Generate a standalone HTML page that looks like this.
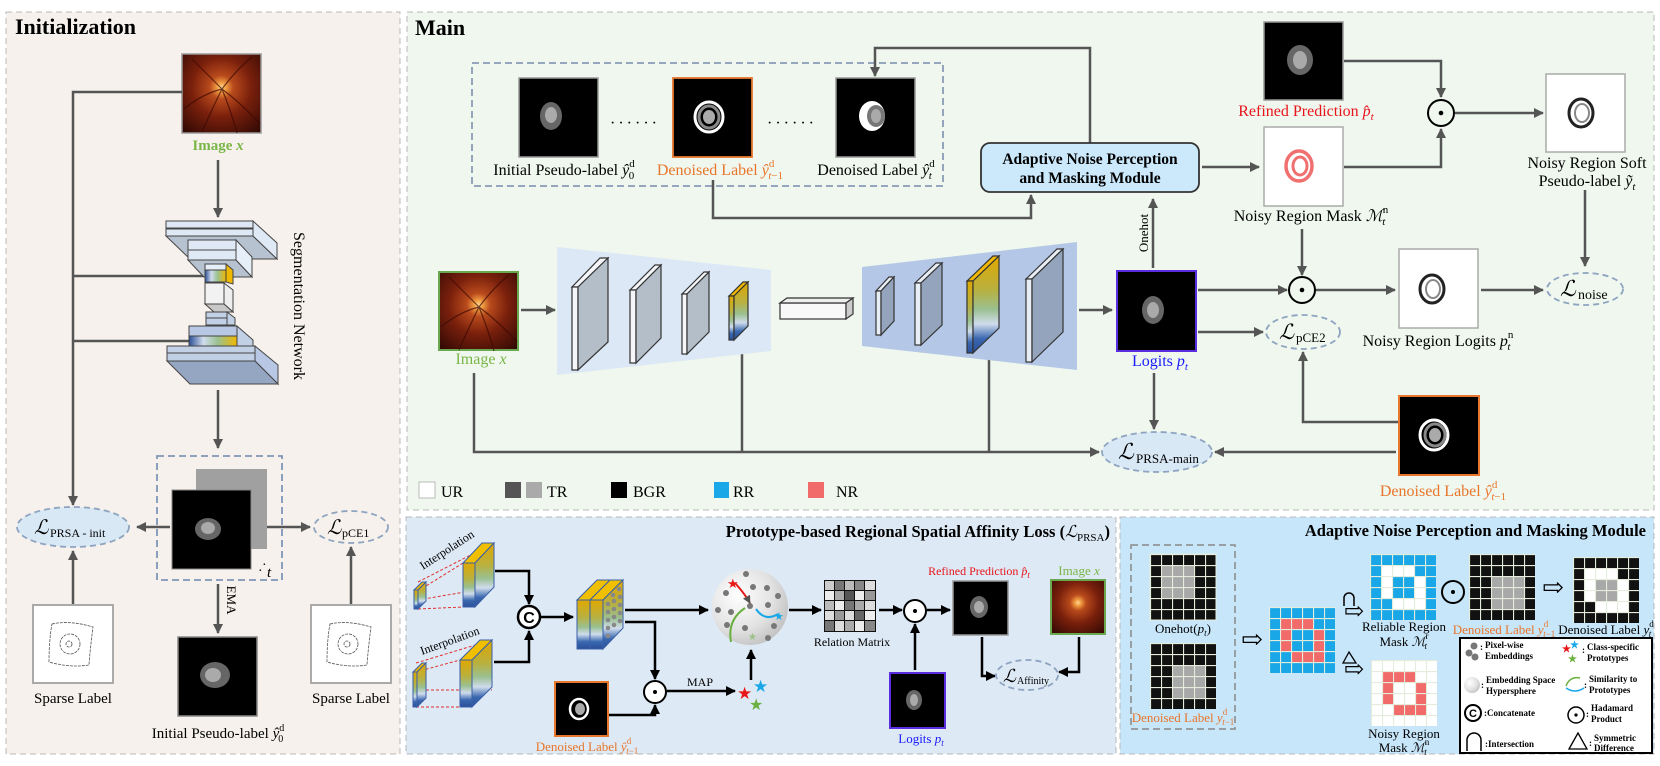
<!DOCTYPE html>
<html><head><meta charset="utf-8"><style>
html,body{margin:0;padding:0;background:#fff;}
svg{display:block;font-family:"Liberation Serif","DejaVu Serif",serif;}
.m{font-family:"Liberation Serif","DejaVu Serif",serif;font-style:italic;}
</style></head><body>
<svg width="1660" height="766" viewBox="0 0 1660 766" xmlns="http://www.w3.org/2000/svg">
<defs>
<marker id="ag" viewBox="0 0 10 10" refX="9" refY="5" markerWidth="4" markerHeight="4" orient="auto"><path d="M0,0L10,5L0,10z" fill="#555"/></marker>
<marker id="ab" viewBox="0 0 10 10" refX="9" refY="5" markerWidth="4" markerHeight="4" orient="auto"><path d="M0,0L10,5L0,10z" fill="#000"/></marker>
<radialGradient id="fund" cx="0.5" cy="0.42" r="0.75"><stop offset="0" stop-color="#ffd890"/><stop offset="0.08" stop-color="#f09a40"/><stop offset="0.2" stop-color="#b84a1c"/><stop offset="0.5" stop-color="#7a200c"/><stop offset="1" stop-color="#2e0804"/></radialGradient>
<linearGradient id="col" x1="0" y1="0" x2="0" y2="1"><stop offset="0" stop-color="#e0a800"/><stop offset="0.35" stop-color="#b8b040"/><stop offset="0.55" stop-color="#9ac090"/><stop offset="0.7" stop-color="#d0dcec"/><stop offset="0.85" stop-color="#3a68b0"/><stop offset="1" stop-color="#2a4f98"/></linearGradient>
<linearGradient id="colh" x1="0" y1="0" x2="1" y2="0"><stop offset="0" stop-color="#2a4f98"/><stop offset="0.3" stop-color="#d0dcec"/><stop offset="0.6" stop-color="#9ac090"/><stop offset="1" stop-color="#f0b800"/></linearGradient>
<radialGradient id="sph" cx="0.35" cy="0.35" r="0.75"><stop offset="0" stop-color="#ffffff"/><stop offset="0.6" stop-color="#e2e2e2"/><stop offset="1" stop-color="#bdbdbd"/></radialGradient>
<pattern id="gap" width="11" height="11" patternUnits="userSpaceOnUse"><path d="M0,0H11M0,0V11" stroke="#e4ecdc" stroke-width="2.2" fill="none"/></pattern>
<g id="vess" fill="none" stroke="#3a0804" stroke-width="1.2" opacity="0.7"><path d="M40,35Q25,20 10,5M40,35Q20,40 2,55M40,35Q30,55 20,78M40,35Q55,15 70,3M40,35Q60,50 78,70M40,35Q50,60 55,79"/></g>
</defs>

<!-- Panels -->
<rect x="6" y="12" width="394" height="742" fill="#f6f1ec" stroke="#b8b8b8" stroke-dasharray="6,4"/>
<rect x="407" y="12" width="1247" height="498" fill="#eff7ee" stroke="#b8b8b8" stroke-dasharray="6,4"/>
<rect x="406" y="517" width="710" height="237" fill="#dde9f5" stroke="#b8b8b8" stroke-dasharray="6,4"/>
<rect x="1120" y="517" width="534" height="237" fill="#c8e6fa" stroke="#b8b8b8" stroke-dasharray="6,4"/>

<!-- ============ INITIALIZATION ============ -->
<text x="15" y="34" font-size="22" font-weight="bold">Initialization</text>
<rect x="182" y="54" width="79" height="79" fill="url(#fund)" stroke="#999" stroke-width="1.5"/>
<use href="#vess" x="182" y="54"/>
<text x="218" y="150" font-size="15" font-weight="bold" fill="#7ab648" text-anchor="middle">Image <tspan class="m">x</tspan></text>
<g stroke="#555" stroke-width="2.5" fill="none">
<path d="M218,160V217" marker-end="url(#ag)"/>
<path d="M182,92H73V505" marker-end="url(#ag)"/>
<path d="M206,276H73M190,341H73"/>
<path d="M218,390V448" marker-end="url(#ag)"/>
<path d="M170,527H137" marker-end="url(#ag)"/>
<path d="M253,527H310" marker-end="url(#ag)"/>
<path d="M73,604V551" marker-end="url(#ag)"/>
<path d="M351,604V547" marker-end="url(#ag)"/>
<path d="M218,584V633" marker-end="url(#ag)"/>
</g>
<!-- network -->
<g stroke="#444" stroke-width="1">
<polygon points="166,236 253,236 277,259 190,259" fill="#b7c2d0"/>
<polygon points="253,221 277,243 277,259 253,236" fill="#dfe9f6"/>
<rect x="166" y="221" width="87" height="7" fill="#dfe9f6"/><rect x="166" y="229" width="87" height="7" fill="#dfe9f6"/>
<polygon points="188,260 236,260 252,277 204,277" fill="#b7c2d0"/>
<polygon points="236,240 252,257 252,277 236,260" fill="#e6eef8"/>
<rect x="188" y="240" width="48" height="10" fill="#dfe9f6"/><rect x="188" y="250" width="48" height="10" fill="#dfe9f6"/>
<rect x="205" y="264" width="21" height="6" fill="#e6eef8"/>
<rect x="205" y="270" width="21" height="12" fill="url(#colh)"/>
<polygon points="226,264 233,270 233,284 226,282" fill="#f0b800"/>
<polygon points="224,283 233,290 233,312 224,304" fill="#eee"/>
<rect x="205" y="283" width="19" height="21" fill="#f2f2f2"/>
<polygon points="205,304 224,304 233,312 214,312" fill="#c8c8c8"/>
<rect x="206" y="312" width="21" height="6" fill="#c2d0e6"/><rect x="206" y="318" width="21" height="7" fill="#c2d0e6"/>
<polygon points="227,312 235,318 235,325 227,325" fill="#c2d0e6"/>
<rect x="189" y="326" width="48" height="10" fill="#b8c8e4"/>
<rect x="189" y="336" width="48" height="10" fill="url(#colh)"/>
<polygon points="237,326 253,340 253,346 237,346" fill="#c2d0e6"/>
<rect x="167" y="346" width="88" height="7" fill="#c2d0e6"/><rect x="167" y="353" width="88" height="8" fill="#c2d0e6"/>
<polygon points="255,346 278,365 278,384 255,361" fill="#b8c8e4"/>
<polygon points="167,361 255,361 278,384 190,384" fill="#94a6c2"/>
</g>
<text transform="translate(294,306) rotate(90)" font-size="16" text-anchor="middle">Segmentation Network</text>
<rect x="157" y="456" width="125" height="124" fill="none" stroke="#7f96b8" stroke-width="1.8" stroke-dasharray="7,4"/>
<rect x="196" y="469" width="71" height="80" fill="#a0a0a0"/>
<rect x="172" y="490" width="79" height="79" fill="#000" stroke="#888"/>
<ellipse cx="208" cy="529" rx="13" ry="11" fill="#666"/><ellipse cx="208" cy="528" rx="7" ry="6" fill="#aaa"/>
<text x="258" y="575" font-size="14">·</text><text x="262" y="569" font-size="14">·</text><text x="267" y="577" font-size="15" class="m">t</text>
<ellipse cx="73" cy="527" rx="56" ry="20" fill="#d9e8f5" stroke="#8ea4c0" stroke-width="1.8" stroke-dasharray="6,4"/>
<text x="34" y="534" font-size="20" class="m">ℒ</text><text x="50" y="537" font-size="12">PRSA - init</text>
<ellipse cx="351" cy="527" rx="37" ry="16" fill="none" stroke="#8ea4c0" stroke-width="1.8" stroke-dasharray="6,4"/>
<text x="327" y="534" font-size="20" class="m">ℒ</text><text x="342" y="537" font-size="12">pCE1</text>
<rect x="33" y="605" width="80" height="78" fill="#fff" stroke="#aaa" stroke-width="2"/>
<rect x="311" y="605" width="80" height="78" fill="#fff" stroke="#aaa" stroke-width="2"/>
<g fill="none" stroke="#555" stroke-width="0.8" stroke-dasharray="3,1">
<path d="M52,624Q70,620 93,627Q90,650 89,665Q70,668 49,662Q49,640 52,624z"/><circle cx="70" cy="644" r="10"/><circle cx="69" cy="644" r="3"/>
<path d="M330,624Q348,620 371,627Q368,650 367,665Q348,668 327,662Q327,640 330,624z"/><circle cx="348" cy="644" r="10"/><circle cx="347" cy="644" r="3"/>
</g>
<text x="73" y="703" font-size="15" text-anchor="middle">Sparse Label</text>
<text x="351" y="703" font-size="15" text-anchor="middle">Sparse Label</text>
<text transform="translate(227,600) rotate(90)" font-size="13" text-anchor="middle">EMA</text>
<rect x="178" y="637" width="79" height="79" fill="#000" stroke="#888" stroke-width="1.5"/>
<ellipse cx="215" cy="675" rx="15" ry="13" fill="#666"/><ellipse cx="213" cy="675" rx="8" ry="7" fill="#aaa"/>
<text x="218" y="738" font-size="15" text-anchor="middle">Initial Pseudo-label <tspan class="m">ŷ</tspan><tspan font-size="10" dy="-7">d</tspan><tspan font-size="10" dx="-6" dy="11">0</tspan></text>

<!-- ============ MAIN ============ -->
<text x="415" y="35" font-size="22" font-weight="bold">Main</text>
<rect x="472" y="63" width="471" height="123" fill="none" stroke="#8a9bb5" stroke-width="1.8" stroke-dasharray="7,4"/>
<rect x="519" y="78" width="79" height="79" fill="#000" stroke="#999" stroke-width="1.5"/>
<ellipse cx="551" cy="116" rx="11" ry="14" fill="#666"/><ellipse cx="551" cy="115" rx="6" ry="8" fill="#aaa"/>
<rect x="673" y="78" width="79" height="79" fill="#000" stroke="#e8762c" stroke-width="1.8"/>
<ellipse cx="709" cy="117" rx="14" ry="15" fill="none" stroke="#fff" stroke-width="3"/><ellipse cx="709" cy="117" rx="10" ry="11" fill="none" stroke="#888" stroke-width="3"/><ellipse cx="709" cy="117" rx="6" ry="7" fill="#aaa"/>
<rect x="836" y="78" width="79" height="79" fill="#000" stroke="#999" stroke-width="1.5"/>
<ellipse cx="872" cy="116" rx="13" ry="15" fill="#fff"/><ellipse cx="876" cy="116" rx="9" ry="11" fill="#777"/><ellipse cx="876" cy="116" rx="5" ry="7" fill="#aaa"/>
<text x="635" y="128" font-size="16" text-anchor="middle" letter-spacing="3">······</text>
<text x="792" y="128" font-size="16" text-anchor="middle" letter-spacing="3">······</text>
<text x="564" y="175" font-size="16" text-anchor="middle">Initial Pseudo-label <tspan class="m">ŷ</tspan><tspan font-size="11" dy="-8">d</tspan><tspan font-size="11" dx="-6" dy="12">0</tspan></text>
<text x="720" y="175" font-size="16" text-anchor="middle" fill="#e8762c">Denoised Label <tspan class="m">ŷ</tspan><tspan font-size="11" dy="-8">d</tspan><tspan font-size="11" dx="-6" dy="12" class="m">t</tspan><tspan font-size="11">−1</tspan></text>
<text x="876" y="175" font-size="16" text-anchor="middle">Denoised Label <tspan class="m">ŷ</tspan><tspan font-size="11" dy="-8">d</tspan><tspan font-size="11" dx="-6" dy="12" class="m">t</tspan></text>

<g stroke="#555" stroke-width="2.5" fill="none">
<path d="M1090,143V48H875V76" marker-end="url(#ag)"/>
<path d="M713,180V218H1031V195" marker-end="url(#ag)"/>
<path d="M1202,167H1259" marker-end="url(#ag)"/>
<path d="M1344,61H1441V97" marker-end="url(#ag)"/>
<path d="M1344,167H1441V129" marker-end="url(#ag)"/>
<path d="M1455,113H1543" marker-end="url(#ag)"/>
<path d="M1585,190V266" marker-end="url(#ag)"/>
<path d="M1153,268V199" marker-end="url(#ag)"/>
<path d="M1079,310H1112" marker-end="url(#ag)"/>
<path d="M521,310H555" marker-end="url(#ag)"/>
<path d="M1198,290H1287" marker-end="url(#ag)"/>
<path d="M1302,229V275" marker-end="url(#ag)"/>
<path d="M1316,290H1395" marker-end="url(#ag)"/>
<path d="M1481,290H1543" marker-end="url(#ag)"/>
<path d="M1198,332H1263" marker-end="url(#ag)"/>
<path d="M1398,422H1303V352" marker-end="url(#ag)"/>
<path d="M1396,452H1215" marker-end="url(#ag)"/>
<path d="M1154,373V429" marker-end="url(#ag)"/>
<path d="M474,373V452H1099" marker-end="url(#ag)"/>
<path d="M742,342V452M989,348V452"/>
</g>
<rect x="981" y="143" width="218" height="49" rx="9" fill="#cbe9fb" stroke="#333" stroke-width="1.8"/>
<text x="1090" y="164" font-size="15.5" font-weight="bold" text-anchor="middle">Adaptive Noise Perception</text>
<text x="1090" y="183" font-size="15.5" font-weight="bold" text-anchor="middle">and Masking Module</text>

<rect x="1264" y="22" width="79" height="78" fill="#000" stroke="#999" stroke-width="1.5"/>
<ellipse cx="1300" cy="60" rx="13" ry="15" fill="#666"/><ellipse cx="1300" cy="60" rx="7" ry="9" fill="#aaa"/>
<text x="1306" y="116" font-size="16" text-anchor="middle" fill="#e8141c">Refined Prediction <tspan class="m">p̂</tspan><tspan font-size="11" dy="4" class="m">t</tspan></text>
<rect x="1264" y="127" width="79" height="79" fill="#fff" stroke="#aaa" stroke-width="1.5"/>
<ellipse cx="1299" cy="166" rx="13" ry="15" fill="none" stroke="#f07070" stroke-width="3.5"/><ellipse cx="1300" cy="166" rx="7" ry="9" fill="none" stroke="#f07070" stroke-width="3"/>
<text x="1311" y="221" font-size="16" text-anchor="middle">Noisy Region Mask <tspan class="m">ℳ</tspan><tspan font-size="11" dy="-8">n</tspan><tspan font-size="11" dx="-6" dy="12" class="m">t</tspan></text>
<circle cx="1441" cy="113" r="13" fill="none" stroke="#000" stroke-width="2"/><circle cx="1441" cy="113" r="2.3" fill="#000"/>
<rect x="1546" y="74" width="79" height="78" fill="#fff" stroke="#aaa" stroke-width="1.5"/>
<ellipse cx="1581" cy="113" rx="12" ry="14" fill="none" stroke="#222" stroke-width="3"/><ellipse cx="1582" cy="113" rx="7" ry="9" fill="none" stroke="#888" stroke-width="2"/>
<text x="1587" y="168" font-size="16" text-anchor="middle">Noisy Region Soft</text>
<text x="1587" y="186" font-size="16" text-anchor="middle">Pseudo-label <tspan class="m">ỹ</tspan><tspan font-size="11" dy="4" class="m">t</tspan></text>
<ellipse cx="1585" cy="289" rx="38" ry="16" fill="none" stroke="#8ea4c0" stroke-width="1.8" stroke-dasharray="6,4"/>
<text x="1560" y="296" font-size="22" class="m">ℒ</text><text x="1578" y="299" font-size="14">noise</text>

<!-- encoder/decoder -->
<polygon points="557,247 771,270 771,351 557,375" fill="#dce8f5"/>
<polygon points="862,267 1077,242 1077,370 862,346" fill="#b4c7e6"/>
<g stroke="#333" stroke-width="1.2">
<polygon points="572,287 600,258 608,258 578,287" fill="#f4f6f9"/><rect x="572" y="287" width="6" height="83" fill="#f4f6f9"/><polygon points="578,287 608,258 608,342 578,370" fill="#b4bec8"/>
<polygon points="630,290 655,265 661,265 636,290" fill="#f4f6f9"/><rect x="630" y="290" width="6" height="73" fill="#f4f6f9"/><polygon points="636,290 661,265 661,338 636,363" fill="#b4bec8"/>
<polygon points="682,294 704,272 709,272 687,294" fill="#f4f6f9"/><rect x="682" y="294" width="5" height="60" fill="#f4f6f9"/><polygon points="687,294 709,272 709,332 687,354" fill="#b4bec8"/>
<polygon points="729,296 743,282 748,282 734,296" fill="#f0b800"/><rect x="729" y="296" width="5" height="44" fill="url(#col)"/><polygon points="734,296 748,282 748,326 734,340" fill="url(#col)"/>
<rect x="780" y="303" width="66" height="16" fill="#f8f8f8"/><polygon points="780,303 787,298 853,298 846,303" fill="#eee"/><polygon points="846,303 853,298 853,314 846,319" fill="#ccc"/>
<polygon points="876,291 889,277 894,277 881,291" fill="#e8eef6"/><rect x="876" y="291" width="5" height="44" fill="#e8eef6"/><polygon points="881,291 894,277 894,321 881,335" fill="#94a4bc"/>
<polygon points="915,283 936,263 942,263 921,283" fill="#e8eef6"/><rect x="915" y="283" width="6" height="62" fill="#e8eef6"/><polygon points="921,283 942,263 942,325 921,345" fill="#94a4bc"/>
<polygon points="967,281 993,256 999,256 973,281" fill="#f0b800"/><rect x="967" y="281" width="6" height="72" fill="url(#col)"/><polygon points="973,281 999,256 999,328 973,353" fill="url(#col)"/>
<polygon points="1026,279 1057,249 1063,249 1032,279" fill="#e8eef6"/><rect x="1026" y="279" width="6" height="83" fill="#e8eef6"/><polygon points="1032,279 1063,249 1063,332 1032,362" fill="#94a4bc"/>
</g>
<rect x="439" y="272" width="79" height="78" fill="url(#fund)" stroke="#6aa84f" stroke-width="2"/>
<use href="#vess" x="439" y="272"/>
<text x="481" y="364" font-size="16" text-anchor="middle" fill="#7ab648">Image <tspan class="m">x</tspan></text>
<rect x="1117" y="271" width="79" height="80" fill="#000" stroke="#5a2de0" stroke-width="2"/>
<ellipse cx="1153" cy="310" rx="11" ry="14" fill="#666"/><ellipse cx="1153" cy="310" rx="6" ry="8" fill="#aaa"/>
<text x="1160" y="366" font-size="16" text-anchor="middle" fill="#1a1aff">Logits <tspan class="m">p</tspan><tspan font-size="11" dy="4" class="m">t</tspan></text>
<text transform="translate(1148,233) rotate(-90)" font-size="13" text-anchor="middle">Onehot</text>
<circle cx="1302" cy="290" r="13" fill="none" stroke="#000" stroke-width="2"/><circle cx="1302" cy="290" r="2.3" fill="#000"/>
<rect x="1399" y="249" width="79" height="79" fill="#fff" stroke="#aaa" stroke-width="1.5"/>
<ellipse cx="1432" cy="289" rx="12" ry="14" fill="none" stroke="#222" stroke-width="3"/><ellipse cx="1433" cy="289" rx="7" ry="9" fill="none" stroke="#888" stroke-width="2"/>
<text x="1438" y="346" font-size="16" text-anchor="middle">Noisy Region Logits <tspan class="m">p</tspan><tspan font-size="11" dy="-8">n</tspan><tspan font-size="11" dx="-6" dy="12" class="m">t</tspan></text>
<ellipse cx="1303" cy="332" rx="37" ry="17" fill="none" stroke="#8ea4c0" stroke-width="1.8" stroke-dasharray="6,4"/>
<text x="1279" y="339" font-size="21" class="m">ℒ</text><text x="1296" y="342" font-size="13">pCE2</text>
<rect x="1399" y="396" width="80" height="79" fill="#000" stroke="#e8762c" stroke-width="2"/>
<ellipse cx="1434" cy="435" rx="14" ry="15" fill="none" stroke="#fff" stroke-width="3"/><ellipse cx="1435" cy="435" rx="10" ry="11" fill="none" stroke="#888" stroke-width="3"/><ellipse cx="1435" cy="435" rx="6" ry="7" fill="#aaa"/>
<text x="1443" y="496" font-size="16" text-anchor="middle" fill="#e8762c">Denoised Label <tspan class="m">ŷ</tspan><tspan font-size="11" dy="-8">d</tspan><tspan font-size="11" dx="-6" dy="12" class="m">t</tspan><tspan font-size="11">−1</tspan></text>
<ellipse cx="1157" cy="452" rx="55" ry="20" fill="#d9e8f5" stroke="#8ea4c0" stroke-width="1.8" stroke-dasharray="6,4"/>
<text x="1118" y="459" font-size="22" class="m">ℒ</text><text x="1136" y="463" font-size="13">PRSA-main</text>
<!-- legend -->
<g font-size="16">
<rect x="419" y="482" width="16" height="16" fill="#fff" stroke="#bbb"/><text x="441" y="497">UR</text>
<rect x="505" y="482" width="16" height="16" fill="#555"/><rect x="526" y="482" width="16" height="16" fill="#aaa"/><text x="547" y="497">TR</text>
<rect x="611" y="482" width="16" height="16" fill="#000"/><text x="633" y="497">BGR</text>
<rect x="714" y="482" width="15" height="16" fill="#1aa7e8"/><text x="733" y="497">RR</text>
<rect x="808" y="482" width="16" height="16" fill="#f26b6b"/><text x="836" y="497">NR</text>
</g>

<!-- ============ PRSA ============ -->
<text x="1110" y="537" font-size="16.5" font-weight="bold" text-anchor="end">Prototype-based Regional Spatial Affinity Loss (<tspan class="m" font-weight="normal">ℒ</tspan><tspan font-size="11" font-weight="normal" dy="4">PRSA</tspan><tspan dy="-4">)</tspan></text>
<g stroke="#e03030" stroke-width="1" stroke-dasharray="3,2" fill="none">
<path d="M418,582L494,543M418,591L463,563M418,609L463,607M418,600L494,587"/>
<path d="M416,663L492,640M416,672L460,660M416,707L460,707M416,690L492,690"/>
</g>
<g stroke="#3a5fa8" stroke-width="1">
<polygon points="414,590 422,582 426,582 418,590" fill="#f0b800"/><rect x="414" y="590" width="4" height="19" fill="url(#col)"/><polygon points="418,590 426,582 426,601 418,609" fill="url(#col)"/>
<polygon points="463,563 482,543 494,543 475,563" fill="#f0c000"/><rect x="463" y="563" width="12" height="44" fill="url(#col)"/><polygon points="475,563 494,543 494,587 475,607" fill="url(#col)"/>
<polygon points="413,672 422,663 426,663 417,672" fill="#f0b800"/><rect x="413" y="672" width="4" height="35" fill="url(#col)"/><polygon points="417,672 426,663 426,698 417,707" fill="url(#col)"/>
<polygon points="460,660 480,640 492,640 472,660" fill="#f0c000"/><rect x="460" y="660" width="12" height="47" fill="url(#col)"/><polygon points="472,660 492,640 492,687 472,707" fill="url(#col)"/>
<polygon points="577,600 597,580 610,580 590,600" fill="#f0c000"/><polygon points="590,600 610,580 623,580 603,600" fill="#f0c000"/>
<rect x="577" y="600" width="13" height="49" fill="url(#col)"/><rect x="590" y="600" width="13" height="49" fill="url(#col)"/>
<polygon points="603,600 623,580 623,628 603,649" fill="url(#col)"/>
</g>
<g fill="#888"><circle cx="613" cy="595" r="2.3"/><circle cx="619" cy="589" r="2.3"/><circle cx="608" cy="604" r="2.3"/><circle cx="614" cy="601" r="2.3"/><circle cx="620" cy="597" r="2.3"/><circle cx="608" cy="612" r="2.3"/><circle cx="614" cy="609" r="2.3"/><circle cx="620" cy="605" r="2.3"/><circle cx="608" cy="620" r="2.3"/><circle cx="614" cy="617" r="2.3"/><circle cx="620" cy="613" r="2.3"/><circle cx="608" cy="628" r="2.3"/><circle cx="614" cy="625" r="2.3"/><circle cx="620" cy="621" r="2.3"/><circle cx="608" cy="636" r="2.3"/></g>
<text transform="translate(423,570) rotate(-33)" font-size="12">Interpolation</text>
<text transform="translate(422,655) rotate(-20)" font-size="12">Interpolation</text>
<g stroke="#000" stroke-width="2.5" fill="none">
<path d="M495,571H529V604" marker-end="url(#ab)"/>
<path d="M494,662H529V631" marker-end="url(#ab)"/>
<path d="M541,617H573" marker-end="url(#ab)"/>
<path d="M625,610H708" marker-end="url(#ab)"/>
<path d="M625,622H655V679" marker-end="url(#ab)"/>
<path d="M789,610H821" marker-end="url(#ab)"/>
<path d="M879,610H902" marker-end="url(#ab)"/>
<path d="M927,610H950" marker-end="url(#ab)"/>
<path d="M609,715H655V705" marker-end="url(#ab)"/>
<path d="M667,691H735" marker-end="url(#ab)"/>
<path d="M751,680V650" marker-end="url(#ab)"/>
<path d="M915,670V624" marker-end="url(#ab)"/>
<path d="M982,637V676H995" marker-end="url(#ab)"/>
<path d="M1079,637V672H1059" marker-end="url(#ab)"/>
</g>
<circle cx="529" cy="617" r="11" fill="#fff" stroke="#000" stroke-width="2.5"/>
<text x="529" y="623" font-size="16" font-weight="bold" text-anchor="middle" font-family="Liberation Sans, sans-serif">C</text>
<circle cx="750" cy="607" r="38" fill="url(#sph)"/>
<g fill="#777"><circle cx="746" cy="574" r="3"/><circle cx="753" cy="587" r="3"/><circle cx="767" cy="588" r="3"/><circle cx="726" cy="593" r="3"/><circle cx="778" cy="596" r="3"/><circle cx="718" cy="610" r="3"/><circle cx="731" cy="612" r="3"/><circle cx="750" cy="606" r="3"/><circle cx="768" cy="605" r="3"/><circle cx="774" cy="626" r="3"/><circle cx="745" cy="628" r="3"/><circle cx="727" cy="625" r="3"/><circle cx="768" cy="638" r="3"/></g>
<path d="M735,583Q745,594 750,603" stroke="#e81818" stroke-width="2" fill="none" marker-end="url(#ag)"/>
<path d="M731,642Q727,620 745,608" stroke="#6ab040" stroke-width="2" fill="none"/>
<path d="M778,614Q765,622 756,609" stroke="#1aa7e8" stroke-width="2" fill="none"/>
<text x="727" y="588" font-size="13" fill="#e81818">★</text><text x="774" y="620" font-size="11" fill="#1aa7e8">★</text><text x="748" y="640" font-size="10" fill="#9cc080">★</text>
<g transform="translate(824,580)">
<rect width="52" height="52" fill="#111"/>
<g fill="#ddd"><rect x="1" y="1" width="9" height="9" fill="#ccc"/><rect x="11" y="1" width="9" height="9" fill="#777"/><rect x="21" y="1" width="9" height="9" fill="#bbb"/><rect x="31" y="1" width="9" height="9" fill="#888"/><rect x="41" y="1" width="10" height="9" fill="#ddd"/>
<rect x="1" y="11" width="9" height="9" fill="#eee"/><rect x="11" y="11" width="9" height="9" fill="#aaa"/><rect x="21" y="11" width="9" height="9" fill="#555"/><rect x="31" y="11" width="9" height="9" fill="#eee"/><rect x="41" y="11" width="10" height="9" fill="#999"/>
<rect x="1" y="21" width="9" height="9" fill="#bbb"/><rect x="11" y="21" width="9" height="9" fill="#eee"/><rect x="21" y="21" width="9" height="9" fill="#777"/><rect x="31" y="21" width="9" height="9" fill="#aaa"/><rect x="41" y="21" width="10" height="9" fill="#ddd"/>
<rect x="1" y="31" width="9" height="9" fill="#ddd"/><rect x="11" y="31" width="9" height="9" fill="#999"/><rect x="21" y="31" width="9" height="9" fill="#ddd"/><rect x="31" y="31" width="9" height="9" fill="#666"/><rect x="41" y="31" width="10" height="9" fill="#eee"/>
<rect x="1" y="41" width="9" height="10" fill="#777"/><rect x="11" y="41" width="9" height="10" fill="#ddd"/><rect x="21" y="41" width="9" height="10" fill="#aaa"/><rect x="31" y="41" width="9" height="10" fill="#eee"/><rect x="41" y="41" width="10" height="10" fill="#888"/></g>
</g>
<text x="852" y="646" font-size="12" text-anchor="middle">Relation Matrix</text>
<circle cx="915" cy="611" r="11" fill="#fff" stroke="#000" stroke-width="2"/><circle cx="915" cy="611" r="2" fill="#000"/>
<rect x="953" y="581" width="55" height="54" fill="#000" stroke="#999" stroke-width="1.5"/>
<ellipse cx="979" cy="607" rx="9" ry="11" fill="#666"/><ellipse cx="979" cy="607" rx="5" ry="6" fill="#aaa"/>
<text x="979" y="575" font-size="12" text-anchor="middle" fill="#e8141c">Refined Prediction <tspan class="m">p̂</tspan><tspan font-size="9" dy="3" class="m">t</tspan></text>
<rect x="1051" y="580" width="54" height="54" fill="url(#fund)" stroke="#6aa84f" stroke-width="2"/>
<text x="1079" y="575" font-size="13" text-anchor="middle" fill="#7ab648">Image <tspan class="m">x</tspan></text>
<ellipse cx="1027" cy="675" rx="31" ry="15" fill="none" stroke="#8ea4c0" stroke-width="1.8" stroke-dasharray="6,4"/>
<text x="1003" y="682" font-size="18" class="m">ℒ</text><text x="1017" y="684" font-size="10">Affinity</text>
<rect x="890" y="673" width="55" height="55" fill="#000" stroke="#5a2de0" stroke-width="2"/>
<ellipse cx="914" cy="700" rx="8" ry="10" fill="#666"/><ellipse cx="914" cy="700" rx="4" ry="6" fill="#aaa"/>
<text x="921" y="743" font-size="13" text-anchor="middle" fill="#1a1aff">Logits <tspan class="m">p</tspan><tspan font-size="9" dy="3" class="m">t</tspan></text>
<rect x="555" y="682" width="53" height="54" fill="#000" stroke="#e8762c" stroke-width="2"/>
<ellipse cx="579" cy="709" rx="9" ry="10" fill="none" stroke="#fff" stroke-width="2.5"/><ellipse cx="580" cy="709" rx="5" ry="6" fill="#aaa"/>
<text x="587" y="751" font-size="13" text-anchor="middle" fill="#e8762c">Denoised Label <tspan class="m">ŷ</tspan><tspan font-size="9" dy="-7">d</tspan><tspan font-size="9" dx="-5" dy="10" class="m">t</tspan><tspan font-size="9">−1</tspan></text>
<circle cx="655" cy="692" r="11" fill="#fff" stroke="#000" stroke-width="2"/><circle cx="655" cy="692" r="2" fill="#000"/>
<text x="700" y="686" font-size="12" text-anchor="middle">MAP</text>
<text x="737" y="699" font-size="17" fill="#e81818">★</text><text x="753" y="692" font-size="17" fill="#1aa7e8">★</text><text x="749" y="710" font-size="16" fill="#6ab040">★</text>

<!-- ============ ANPMM ============ -->
<text x="1646" y="536" font-size="16.5" font-weight="bold" text-anchor="end">Adaptive Noise Perception and Masking Module</text>
<rect x="1131" y="545" width="104" height="184" fill="none" stroke="#888" stroke-width="1.5" stroke-dasharray="7,4"/>
<g transform="translate(1150,554)"><rect width="66" height="66" fill="#111"/><rect x="11" y="11" width="33" height="33" fill="#a8a8a8"/><rect width="66" height="66" fill="url(#gap)"/><rect width="66" height="66" fill="none" stroke="#e4ecdc" stroke-width="1"/></g>
<text x="1183" y="633" font-size="13" text-anchor="middle">Onehot(<tspan class="m">p</tspan><tspan font-size="9" dy="3" class="m">t</tspan><tspan dy="-3">)</tspan></text>
<g transform="translate(1150,643)"><rect width="66" height="66" fill="#111"/><rect x="22" y="22" width="33" height="33" fill="#a8a8a8"/><rect width="66" height="66" fill="url(#gap)"/></g>
<text x="1183" y="722" font-size="13" text-anchor="middle" fill="#e8762c">Denoised Label <tspan class="m">y</tspan><tspan font-size="9" dy="-7">d</tspan><tspan font-size="9" dx="-5" dy="10" class="m">t</tspan><tspan font-size="9">−1</tspan></text>
<text x="1252" y="648" font-size="26" text-anchor="middle">⇨</text>
<g transform="translate(1269,607)"><rect width="66" height="66" fill="#1aa7e8"/><g fill="#f26b6b"><rect x="11" y="11" width="33" height="11"/><rect x="11" y="22" width="11" height="22"/><rect x="44" y="22" width="11" height="22"/><rect x="22" y="44" width="33" height="11"/></g><rect width="66" height="66" fill="url(#gap)"/></g>
<path d="M1344,606V598A5,5 0 0 1 1354,598V606" fill="none" stroke="#000" stroke-width="1.5"/>
<text x="1354" y="619" font-size="24" text-anchor="middle">⇨</text>
<path d="M1343,663L1349,652L1356,663z" fill="none" stroke="#000" stroke-width="1.3"/>
<text x="1354" y="677" font-size="24" text-anchor="middle">⇨</text>
<g transform="translate(1370,554)"><rect width="66" height="66" fill="#1aa7e8"/><g fill="#fff"><rect x="11" y="11" width="33" height="11"/><rect x="11" y="22" width="11" height="22"/><rect x="44" y="22" width="11" height="22"/><rect x="22" y="44" width="33" height="11"/></g><rect width="66" height="66" fill="url(#gap)"/></g>
<text x="1404" y="631" font-size="13" text-anchor="middle">Reliable Region</text>
<text x="1404" y="646" font-size="13" text-anchor="middle">Mask <tspan class="m">ℳ</tspan><tspan font-size="9" dy="-7">r</tspan><tspan font-size="9" dx="-4" dy="10" class="m">t</tspan></text>
<circle cx="1453" cy="592" r="11" fill="none" stroke="#000" stroke-width="2"/><circle cx="1453" cy="592" r="2" fill="#000"/>
<g transform="translate(1469,554)"><rect width="66" height="66" fill="#111"/><rect x="22" y="22" width="33" height="33" fill="#a8a8a8"/><rect width="66" height="66" fill="url(#gap)"/></g>
<text x="1504" y="634" font-size="13" text-anchor="middle" fill="#e8762c">Denoised Label <tspan class="m">y</tspan><tspan font-size="9" dy="-7">d</tspan><tspan font-size="9" dx="-5" dy="10" class="m">t</tspan><tspan font-size="9">−1</tspan></text>
<text x="1553" y="596" font-size="26" text-anchor="middle">⇨</text>
<g transform="translate(1573,557)"><rect width="66" height="66" fill="#111"/><g fill="#fff"><rect x="11" y="11" width="33" height="11"/><rect x="11" y="22" width="11" height="22"/><rect x="44" y="22" width="11" height="22"/><rect x="22" y="44" width="33" height="11"/></g><rect x="22" y="22" width="22" height="22" fill="#a8a8a8"/><rect width="66" height="66" fill="url(#gap)"/></g>
<text x="1606" y="634" font-size="13" text-anchor="middle">Denoised Label <tspan class="m">y</tspan><tspan font-size="9" dy="-7">d</tspan><tspan font-size="9" dx="-5" dy="10" class="m">t</tspan></text>
<g transform="translate(1371,660)"><rect width="66" height="66" fill="#fff"/><g fill="#f26b6b"><rect x="11" y="11" width="33" height="11"/><rect x="11" y="22" width="11" height="22"/><rect x="44" y="22" width="11" height="22"/><rect x="22" y="44" width="33" height="11"/></g><rect width="66" height="66" fill="url(#gap)"/></g>
<text x="1404" y="738" font-size="13" text-anchor="middle">Noisy Region</text>
<text x="1404" y="752" font-size="13" text-anchor="middle">Mask <tspan class="m">ℳ</tspan><tspan font-size="9" dy="-7">n</tspan><tspan font-size="9" dx="-5" dy="10" class="m">t</tspan></text>
<rect x="1460" y="638" width="192" height="115" fill="#fff" stroke="#000" stroke-width="2"/>
<g font-size="9" font-weight="bold">
<circle cx="1474" cy="646" r="3.5" fill="#777"/><circle cx="1469" cy="653" r="3.5" fill="#777"/><circle cx="1475" cy="657" r="3.5" fill="#777"/>
<text x="1480" y="650">:</text><text x="1485" y="648">Pixel-wise</text><text x="1485" y="659">Embeddings</text>
<text x="1562" y="652" font-size="10" fill="#e81818">★</text><text x="1570" y="648" font-size="10" fill="#1aa7e8">★</text><text x="1568" y="662" font-size="10" fill="#6ab040">★</text>
<text x="1582" y="653">:</text><text x="1587" y="650">Class-specific</text><text x="1587" y="661">Prototypes</text>
<circle cx="1472" cy="685" r="8" fill="url(#sph)"/>
<text x="1481" y="688">:</text><text x="1486" y="683">Embedding Space</text><text x="1486" y="694">Hypersphere</text>
<path d="M1566,686Q1570,676 1580,678" stroke="#6ab040" stroke-width="1.5" fill="none"/><path d="M1566,688Q1575,694 1584,688" stroke="#1aa7e8" stroke-width="1.5" fill="none"/>
<text x="1584" y="688">:</text><text x="1589" y="682">Similarity to</text><text x="1589" y="693">Prototypes</text>
<circle cx="1473" cy="713" r="8" fill="none" stroke="#000" stroke-width="2"/><text x="1473" y="717" font-size="11" text-anchor="middle" font-family="Liberation Sans, sans-serif">C</text>
<text x="1484" y="716">:Concatenate</text>
<circle cx="1576" cy="715" r="8" fill="none" stroke="#000" stroke-width="1.5"/><circle cx="1576" cy="715" r="1.6" fill="#000"/>
<text x="1586" y="717">:</text><text x="1591" y="711">Hadamard</text><text x="1591" y="722">Product</text>
<path d="M1467,751V740A7,7 0 0 1 1481,740V751" fill="none" stroke="#000" stroke-width="1.5"/>
<text x="1485" y="747">:Intersection</text>
<path d="M1569,749L1578,733L1587,749z" fill="none" stroke="#000" stroke-width="1.3"/>
<text x="1589" y="746">:</text><text x="1594" y="741">Symmetric</text><text x="1594" y="751">Difference</text>
</g>
</svg>
</body></html>
